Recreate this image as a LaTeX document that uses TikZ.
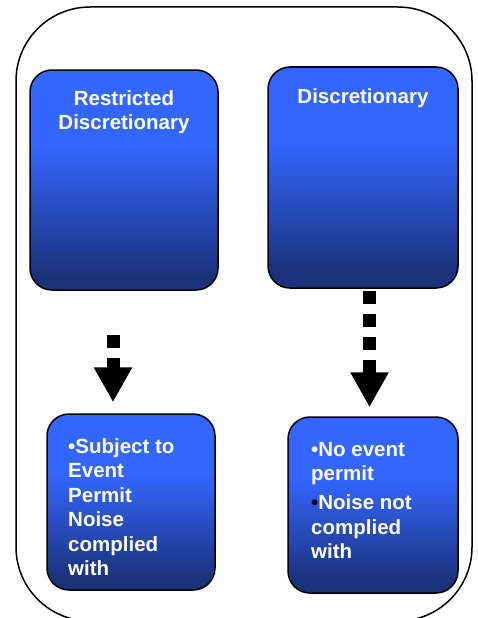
\documentclass[tikz,border=0pt]{standalone}
\usepackage{fontspec}
\setmainfont{Liberation Sans}
\usetikzlibrary{arrows.meta}
\definecolor{boxtop}{RGB}{51,102,255}
\definecolor{boxbot}{RGB}{26,50,122}
\pgfdeclareverticalshading{boxshade}{100bp}{color(0bp)=(boxbot); color(28bp)=(boxbot); color(58bp)=(boxtop); color(100bp)=(boxtop)}
\begin{document}
\begin{tikzpicture}[x=1pt,y=-1pt,
  frame/.style={draw=black, line width=1.5pt, rounded corners=74pt, inner sep=0pt},
  box/.style={draw=black, line width=1.5pt, rounded corners=22pt, shading=boxshade, inner sep=0pt},
  title/.style={text=white, font=\fontsize{20.5}{24.5}\selectfont\bfseries, align=center, inner sep=0pt, anchor=north},
  body/.style={text=white, font=\fontsize{20.5}{24.5}\selectfont\bfseries, align=left, inner sep=0pt, anchor=north west},
  conn/.style={line width=13pt, dash pattern=on 13pt off 10pt, -{Triangle[width=36pt,length=35pt]}}]
\useasboundingbox (0,0) rectangle (477,618);
\clip (0,0) rectangle (477,618);
\node[frame, minimum width=456pt, minimum height=614pt] (frame) at (244,314) {};
\node[box, minimum width=188pt, minimum height=220pt] (b1) at (124,180) {};
\node[box, minimum width=190pt, minimum height=221pt] (b2) at (363,177.5) {};
\node[box, minimum width=168pt, minimum height=176pt] (b3) at (131,502) {};
\node[box, minimum width=170pt, minimum height=176pt] (b4) at (373,505) {};
\node[title] (t1) at (124,90.3) {Restricted\\Discretionary};
\node[title] (t2) at (363,88.3) {Discretionary};
\node[body] (t3) at (68,438) {•Subject to\\Event\\Permit\\Noise\\complied\\with};
\node[body] (t4) at (311,442) {•No event\\permit\\[4.5pt]\textcolor{black}{•}Noise not\\complied\\with};
\draw[conn, shorten <=44pt, shorten >=11pt] ([xshift=-11pt]b1.south) -- ([xshift=-18pt]b3.north);
\draw[conn, shorten <=2pt, shorten >=9pt] ([xshift=6.5pt]b2.south) -- ([xshift=-3.5pt]b4.north);
\end{tikzpicture}
\end{document}
